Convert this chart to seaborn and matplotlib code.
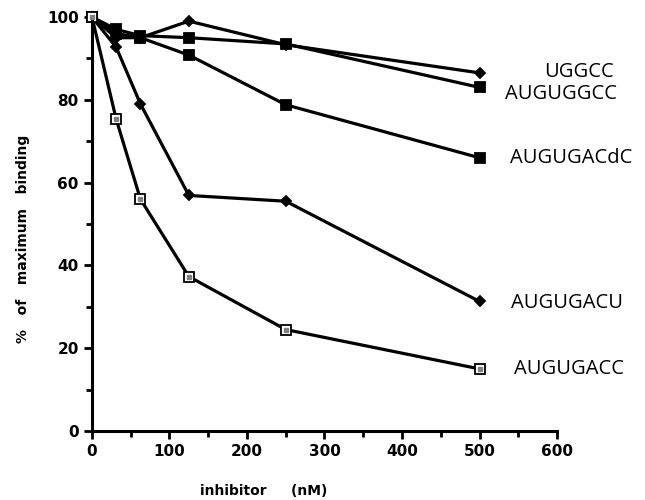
import numpy as np
import pandas as pd
import seaborn as sns
import matplotlib.pyplot as plt
from matplotlib.ticker import MultipleLocator

# inhibitor concentrations (nM)
conc = [0, 31.25, 62.5, 125, 250, 500]

# % of maximum binding per inhibitor
names = ["UGGCC", "AUGUGGCC", "AUGUGACdC", "AUGUGACU", "AUGUGACC"]
uggcc = [100, 95, 95, 99, 93.3, 86.5]
auguggcc = [100, 97, 95.5, 95, 93.5, 83]
augugacdc = [100, 96, 95, 90.8, 78.8, 66]
augugacu = [100, 92.7, 79, 56.9, 55.5, 31.3]
augugacc = [100, 75.3, 56, 37.3, 24.5, 15]
series = [uggcc, auguggcc, augugacdc, augugacu, augugacc]

markers = ["D", "s", "s", "D", "s"]
msizes = [5, 7, 7, 5, 7]
facecols = ["black", "black", "black", "black", "white"]
# label positions: (x in data, y in data, ha)
label_pos = [(673, 86.6, "right"), (677, 81.4, "right"), (539, 66, "left"),
             (541, 31, "left"), (545, 15, "left")]

sns.set_style("ticks")
plt.rcParams['font.family'] = ['DejaVu Sans']

fig = plt.figure(figsize=(6.45, 5.0), dpi=100)
ax = fig.add_axes([0.1426, 0.138, 0.721, 0.828])

for name, vals, m, ms, fc in zip(names, series, markers, msizes, facecols):
    df = pd.DataFrame({"conc": conc, "binding": vals})
    sns.lineplot(data=df, x="conc", y="binding", ax=ax, color="black", lw=2.3,
                 marker=m, markersize=ms, markerfacecolor=fc,
                 markeredgecolor="black", markeredgewidth=1.3, clip_on=False)
    if fc == "white":
        ax.plot(df["conc"], df["binding"], ls="none", marker="s", ms=2.2,
                color="gray", clip_on=False, zorder=5)

for name, vals, (lx, ly, ha) in zip(names, series, label_pos):
    ax.text(lx, ly, name, ha=ha, va="center", fontsize=14.5,
            family="Open Sans", fontweight="medium", color="black", clip_on=False)

ax.set_xlim(0, 600)
ax.set_ylim(0, 100)
ax.xaxis.set_major_locator(MultipleLocator(100))
ax.xaxis.set_minor_locator(MultipleLocator(50))
ax.yaxis.set_major_locator(MultipleLocator(20))
ax.yaxis.set_minor_locator(MultipleLocator(10))
ax.tick_params(which="major", length=6, width=2, labelsize=11, direction="out",
               color="black", labelcolor="black")
ax.tick_params(which="minor", length=4, width=2, direction="out", color="black")
for lab in ax.get_xticklabels() + ax.get_yticklabels():
    lab.set_fontweight("bold")
for s in ["left", "bottom"]:
    ax.spines[s].set_linewidth(2.2)
    ax.spines[s].set_color("black")
sns.despine(ax=ax)

ax.set_xlabel("inhibitor     (nM)", fontsize=10, fontweight="bold", color="black")
ax.set_ylabel("%   of   maximum   binding", fontsize=10, fontweight="bold", color="black")
ax.xaxis.set_label_coords(0.37, -0.128)
ax.yaxis.set_label_coords(-0.134, 0.464)

fig.savefig("out.png", dpi=100)
